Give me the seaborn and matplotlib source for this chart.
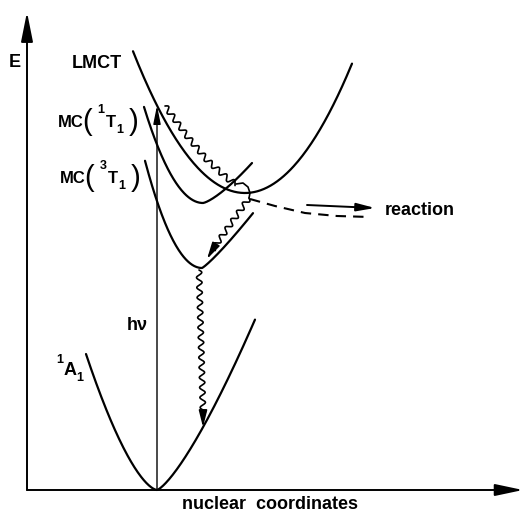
import numpy as np
import pandas as pd
import seaborn as sns
import matplotlib
matplotlib.use("Agg")
import matplotlib.pyplot as plt

# potential curves: E = E_min + k * |q - q_min|^p  (left / right branch)
state = ["1A1", "3T1", "1T1", "LMCT"]
q_min = [0.00, 0.45, 0.46, 0.88]
E_min = [0.00, 2.22, 2.87, 2.97]
k_left = [2.32, 3.30, 2.76, 1.13]
p_left = [1.56, 2.00, 2.00, 2.00]
k_right = [1.75, 1.19, 1.04, 1.13]
p_right = [1.32, 1.15, 1.34, 2.00]
q_from = [-0.71, -0.12, -0.13, -0.24]
q_to = [0.98, 0.96, 0.95, 1.95]

# reaction path (dashed)
dash_q = [0.93, 1.18, 1.48, 1.80, 2.13]
dash_E = [2.91, 2.84, 2.77, 2.74, 2.73]

# relaxation paths (wavy)
relax1_q = [0.08, 0.30, 0.50, 0.71, 0.79]
relax1_E = [3.84, 3.54, 3.30, 3.11, 3.06]
hook_q = [0.79, 0.86, 0.91, 0.93, 0.92]
hook_E = [3.06, 3.07, 3.03, 2.97, 2.92]
relax2_q = [0.92, 0.56]
relax2_E = [2.92, 2.41]
relax3_q = [0.42, 0.46]
relax3_E = [2.20, 0.78]


def energy(i, q):
    d = q - q_min[i]
    k = np.where(d < 0, k_left[i], k_right[i])
    p = np.where(d < 0, p_left[i], p_right[i])
    return E_min[i] + k * np.abs(d) ** p


rows = []
for i, s in enumerate(state):
    q = np.linspace(q_from[i], q_to[i], 200)
    rows.append(pd.DataFrame({"q": q, "E": energy(i, q), "state": s}))
curves = pd.concat(rows, ignore_index=True)

sns.set_style("white")
plt.rcParams["font.family"] = ["Liberation Sans", "DejaVu Sans"]

fig = plt.figure(figsize=(5.23, 5.11), dpi=100)
ax = fig.add_axes([0, 0, 1, 1])
ax.set_xlim(-1.57, 3.66)
ax.set_ylim(-0.21, 4.90)
ax.set_axis_off()

sns.lineplot(data=curves, x="q", y="E", units="state", estimator=None,
             sort=False, color="black", lw=1.6, ax=ax, legend=False)

ax.plot(dash_q, dash_E, color="black", lw=1.5, dashes=(5, 3.4))


def wavy(qs, Es, amp=0.027, wl=0.10):
    pts = np.column_stack([qs, Es])
    seg = np.diff(pts, axis=0)
    s = np.concatenate([[0], np.cumsum(np.hypot(seg[:, 0], seg[:, 1]))])
    t = np.linspace(0, s[-1], 400)
    x = np.interp(t, s, pts[:, 0])
    y = np.interp(t, s, pts[:, 1])
    dx, dy = np.gradient(x), np.gradient(y)
    n = np.hypot(dx, dy)
    w = amp * np.sin(2 * np.pi * t / wl)
    ax.plot(x - w * dy / n, y + w * dx / n, color="black", lw=1.2)


def head(q0, E0, q1, E1, hl=1.0, hw=0.25, lw=1.2):
    ax.annotate("", xy=(q1, E1), xytext=(q0, E0),
                arrowprops=dict(arrowstyle=f"-|>,head_length={hl},head_width={hw}",
                                color="black", lw=lw, shrinkA=0, shrinkB=0))


wavy(relax1_q, relax1_E)
ax.plot(hook_q, hook_E, color="black", lw=1.2)
wavy(relax2_q, relax2_E)
head(relax2_q[-1], relax2_E[-1], 0.50, 2.31)
wavy(relax3_q, relax3_E)
head(relax3_q[-1], relax3_E[-1], 0.46, float(energy(0, 0.46)))

# excitation h nu, up to the LMCT curve
head(0.0, 0.0, 0.0, float(energy(3, 0.0)), hl=1.1, hw=0.22, lw=1.0)

# reaction arrow
head(1.50, 2.85, 2.18, 2.82, hl=1.1, hw=0.24, lw=1.4)

# axes with arrows
head(-1.30, 0.0, 3.66, 0.0, hl=1.7, hw=0.36, lw=1.4)
head(-1.30, 0.0, -1.30, 4.78, hl=1.8, hw=0.36, lw=1.4)

bold = dict(fontweight="bold", color="black")
ax.text(-1.42, 4.28, "E", fontsize=13, ha="center", va="center", **bold)
ax.text(-0.85, 4.27, "LMCT", fontsize=13, ha="left", va="center", **bold)
ax.text(-0.20, 1.65, "hν", fontsize=13, ha="center", va="center", **bold)
ax.text(2.28, 2.80, "reaction", fontsize=13, ha="left", va="center", **bold)
ax.text(1.13, -0.14, "nuclear  coordinates", fontsize=13, ha="center",
        va="center", **bold)

ax.text(-0.97, 1.30, "1", fontsize=9, ha="center", va="center", **bold)
ax.text(-0.87, 1.20, "A", fontsize=13, ha="center", va="center", **bold)
ax.text(-0.77, 1.12, "1", fontsize=9, ha="center", va="center", **bold)


def mc_label(q, E, mult):
    ax.text(q, E, "MC", fontsize=12, ha="left", va="center", **bold)
    ax.text(q + 0.29, E, "(", fontsize=21, ha="center", va="center", color="black")
    ax.text(q + 0.43, E + 0.12, mult, fontsize=9, ha="center", va="center", **bold)
    ax.text(q + 0.53, E, "T", fontsize=12, ha="center", va="center", **bold)
    ax.text(q + 0.62, E - 0.08, "1", fontsize=9, ha="center", va="center", **bold)
    ax.text(q + 0.76, E, ")", fontsize=21, ha="center", va="center", color="black")


mc_label(-0.99, 3.68, "1")
mc_label(-0.97, 3.12, "3")

fig.savefig("out.png", dpi=100)
